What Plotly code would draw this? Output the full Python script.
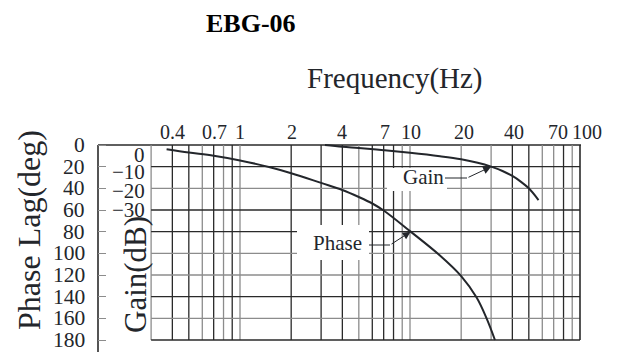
import numpy as np
import plotly.graph_objects as go

# ---- data -------------------------------------------------------------
freq_ticks = [0.4, 0.7, 1, 2, 4, 7, 10, 20, 40, 70, 100]
freq_tick_text = ["0.4", "0.7", "1", "2", "4", "7", "10", "20", "40", "70", "100"]
freq_label_nudge = [0, 1, 0, 1, 0, 1, 1, 3, 2, 4, 7]

grid_freq_dark = [0.4, 0.5, 0.7, 0.9, 2, 3, 4, 6, 7, 8, 40, 50, 80]
grid_freq_grey = [0.3, 0.6, 0.8, 1, 5, 9, 10, 20, 30, 60, 70, 90]

phase_ticks = [0, 20, 40, 60, 80, 100, 120, 140, 160, 180]
grid_phase_dark = [20, 60, 80, 140]
grid_phase_grey = [40, 100, 120, 160]

gain_ticks = [0, -10, -20, -30]
gain_tick_text = ["0", "\u221210", "\u221220", "\u221230"]

gain_freq = [3.16, 4, 5, 7, 10, 15, 20, 25, 30, 35, 40, 45, 50, 57]
gain_db = [0, -0.8, -1.4, -2.4, -3.6, -5.2, -6.6, -8.2, -10, -12, -14.3, -17, -20, -25.4]

phase_freq = [0.37, 0.5, 0.7, 1, 1.5, 2, 3, 4, 5, 6, 7, 10, 15, 20, 24.7, 28.3, 31.6]
phase_deg = [4, 7, 10, 14.3, 20.5, 26, 35, 41.5, 48, 54, 60.5, 79.5, 102, 121, 141, 160.5, 180]

# ---- geometry ---------------------------------------------------------
W, H = 621, 352
L, R, T, B = 98, 38, 143, 10
plot_w, plot_h = W - L - R, H - T - B
PX_DECADE = 170.0          # pixels per decade
X_ONE = 240.0              # pixel column of 1 Hz
Y_ZERO, Y_180 = 145.0, 340.0
deg_per_px = 180.0 / (Y_180 - Y_ZERO)

x_lo = (L - X_ONE) / PX_DECADE
x_hi = (L + plot_w - X_ONE) / PX_DECADE
ph_top = (T - Y_ZERO) * deg_per_px
ph_bot = (H - B - Y_ZERO) * deg_per_px
# 10 dB of gain spans the same height as 20 deg of phase
g_top, g_bot = -ph_top / 2.0, -ph_bot / 2.0


def logf(px):
    return (px - X_ONE) / PX_DECADE


def deg(py):
    return (py - Y_ZERO) * deg_per_px


def px_paper(px):
    return (px - L) / plot_w


def py_paper(py):
    return (H - B - py) / plot_h


INK = "#23262b"
DARK = "#2a2a2a"
GREY = "#8c8c8c"
FONT = "Liberation Serif"

fig = go.Figure()

fig.add_trace(go.Scatter(x=phase_freq, y=phase_deg, mode="lines",
                         line=dict(color=INK, width=2, shape="spline", smoothing=1.0),
                         yaxis="y", hoverinfo="skip", showlegend=False))
fig.add_trace(go.Scatter(x=gain_freq, y=gain_db, mode="lines",
                         line=dict(color=INK, width=2, shape="spline", smoothing=1.0),
                         yaxis="y2", hoverinfo="skip", showlegend=False))

shapes = []
# vertical grid
for f in grid_freq_grey + grid_freq_dark:
    shapes.append(dict(type="line", xref="x", yref="y", x0=f, x1=f, y0=0, y1=180,
                       line=dict(color=DARK if f in grid_freq_dark else GREY, width=1.3),
                       layer="below"))
# horizontal grid
for p in grid_phase_grey + grid_phase_dark:
    shapes.append(dict(type="line", xref="x", yref="y", x0=0.3, x1=100, y0=p, y1=p,
                       line=dict(color=DARK if p in grid_phase_dark else GREY, width=1.3),
                       layer="below"))
# frame
shapes += [
    dict(type="line", xref="paper", yref="y", x0=0, x1=px_paper(581), y0=0, y1=0,
         line=dict(color=DARK, width=1.6), layer="below"),
    dict(type="line", xref="x", yref="y", x0=100, x1=100, y0=0, y1=180,
         line=dict(color=DARK, width=1.6), layer="below"),
    dict(type="line", xref="x", yref="y", x0=0.3, x1=100, y0=180, y1=180,
         line=dict(color=DARK, width=1.6), layer="below"),
    dict(type="line", xref="paper", yref="paper", x0=0, x1=0, y0=py_paper(145), y1=-0.1,
         line=dict(color=DARK, width=1.6), layer="below"),
]
# clear space behind the curve labels
shapes += [
    dict(type="rect", xref="x", yref="y", x0=10 ** logf(297), x1=10 ** logf(369),
         y0=deg(225), y1=deg(260), fillcolor="white", line=dict(width=0), layer="below"),
    dict(type="rect", xref="x", yref="y", x0=10 ** logf(387), x1=10 ** logf(447),
         y0=deg(168), y1=deg(191), fillcolor="white", line=dict(width=0), layer="below"),
]

# leader lines + arrows, tips sit on the curves
ph_tip_deg = 80.0
ph_tip_x = float(np.interp(ph_tip_deg, phase_deg, np.log10(phase_freq)))
g_tip_db = -10.0
g_tip_x = float(np.interp(-g_tip_db, [-g for g in gain_db], np.log10(gain_freq)))

ph_tail = (logf(390), deg(245))
g_tail = (logf(467), -(178 - Y_ZERO) * deg_per_px / 2.0)

shapes += [
    dict(type="line", xref="x", yref="y", x0=10 ** logf(369), x1=10 ** ph_tail[0],
         y0=ph_tail[1], y1=ph_tail[1], line=dict(color=INK, width=1)),
    dict(type="line", xref="x", yref="y2", x0=10 ** logf(445), x1=10 ** g_tail[0],
         y0=g_tail[1], y1=g_tail[1], line=dict(color=INK, width=1)),
]

annotations = [
    dict(x=ph_tip_x, y=ph_tip_deg, xref="x", yref="y", axref="x", ayref="y",
         ax=ph_tail[0], ay=ph_tail[1], text="", showarrow=True,
         arrowhead=2, arrowsize=1.6, arrowwidth=1, arrowcolor=INK),
    dict(x=g_tip_x, y=g_tip_db, xref="x", yref="y2", axref="x", ayref="y2",
         ax=g_tail[0], ay=g_tail[1], text="", showarrow=True,
         arrowhead=2, arrowsize=1.6, arrowwidth=1, arrowcolor=INK),
    dict(x=logf(337.5), y=deg(242.7), xref="x", yref="y", text="Phase", showarrow=False,
         xanchor="center", yanchor="middle", font=dict(family=FONT, size=21, color=INK)),
    dict(x=logf(423.5), y=deg(176.7), xref="x", yref="y", text="Gain", showarrow=False,
         xanchor="center", yanchor="middle", font=dict(family=FONT, size=21, color=INK)),
    dict(x=px_paper(250.6), y=py_paper(23.3), xref="paper", yref="paper",
         text="<b>EBG-06</b>", showarrow=False, xanchor="center", yanchor="middle",
         font=dict(family=FONT, size=26, color="#000000")),
    dict(x=px_paper(394.5), y=py_paper(79), xref="paper", yref="paper",
         text="Frequency(Hz)", showarrow=False, xanchor="center", yanchor="middle",
         font=dict(family=FONT, size=29, color=INK)),
    dict(x=px_paper(29), y=py_paper(230), xref="paper", yref="paper",
         text="Phase Lag(deg)", textangle=-90, showarrow=False,
         xanchor="center", yanchor="middle", font=dict(family=FONT, size=32, color=INK)),
    dict(x=px_paper(135), y=py_paper(275), xref="paper", yref="paper",
         text="Gain(dB)", textangle=-90, showarrow=False,
         xanchor="center", yanchor="middle", font=dict(family=FONT, size=31, color=INK)),
]
# frequency scale labels along the top edge
for f, t, dx in zip(freq_ticks, freq_tick_text, freq_label_nudge):
    annotations.append(dict(x=float(np.log10(f)), y=py_paper(131.7), xref="x", yref="paper",
                            text=t, showarrow=False, xanchor="center", yanchor="middle",
                            xshift=dx, font=dict(family=FONT, size=20, color=INK)))
# phase scale labels
for p in phase_ticks:
    annotations.append(dict(x=px_paper(87), y=p, xref="paper", yref="y", text=str(p),
                            showarrow=False, xanchor="right", yanchor="middle",
                            font=dict(family=FONT, size=21.5, color=INK)))
# gain scale labels
gain_label_shift = [-10, -5, -3, 0]
for g, t, s in zip(gain_ticks, gain_tick_text, gain_label_shift):
    annotations.append(dict(x=px_paper(147), y=g, xref="paper", yref="y2", text=t,
                            showarrow=False, xanchor="right", yanchor="middle", yshift=s,
                            font=dict(family=FONT, size=21, color=INK)))

fig.update_layout(
    width=W, height=H,
    margin=dict(l=L, r=R, t=T, b=B, pad=0),
    paper_bgcolor="white", plot_bgcolor="white",
    showlegend=False,
    xaxis=dict(type="log", range=[x_lo, x_hi], showticklabels=False,
               showgrid=False, zeroline=False, showline=False, ticks=""),
    yaxis=dict(range=[ph_bot, ph_top], tickvals=phase_ticks, showticklabels=False,
               showgrid=False, zeroline=False, showline=False,
               ticks="inside", ticklen=8, tickwidth=1.3, tickcolor=GREY),
    yaxis2=dict(range=[g_bot, g_top], overlaying="y", visible=False),
    shapes=shapes,
    annotations=annotations,
)

fig.write_html("out.html")
